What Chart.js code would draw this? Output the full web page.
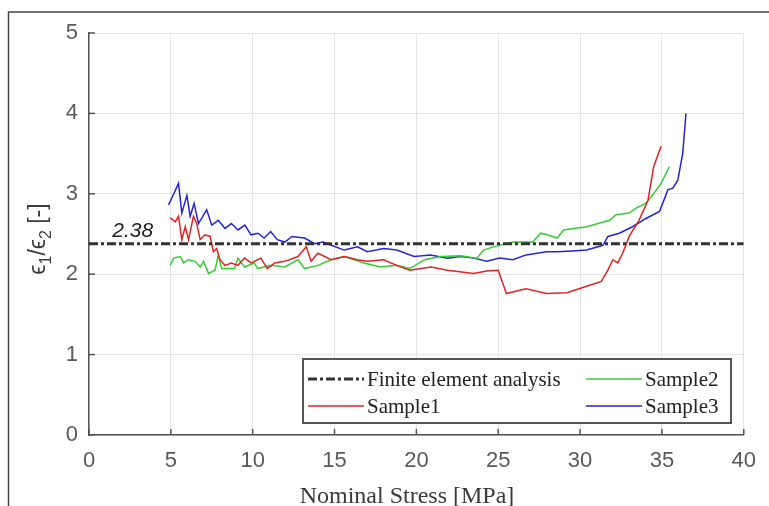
<!DOCTYPE html>
<html><head><meta charset="utf-8">
<script src="https://cdn.jsdelivr.net/npm/chart.js@4/dist/chart.umd.min.js"></script>
<style>html,body{margin:0;padding:0;background:#fff;overflow:hidden}</style>
</head><body>
<canvas id="c" width="769" height="506"></canvas>
<script>
// ---------- data ----------
const xTickValues = [0,5,10,15,20,25,30,35,40];
const yTickValues = [0,1,2,3,4,5];
const xTitle = "Nominal Stress [MPa]";
const feaValue = 2.38;
const feaLabel = "2.38";

const feaX = [0, 40];
const feaY = [2.38, 2.38];

const s1X = [4.96,5.27,5.47,5.67,5.88,6.08,6.38,6.58,6.79,7.09,7.4,7.6,7.8,8.0,8.3,8.7,9.1,9.5,9.9,10.5,10.9,11.35,11.96,12.77,13.27,13.57,13.98,14.8,15.6,16.4,17.0,18.0,18.8,19.6,20.9,21.9,23.5,24.3,25.0,25.2,25.5,26.7,27.96,29.2,30.4,31.3,31.7,32.0,32.3,32.6,33.0,33.6,34.15,34.5,34.95];
const s1Y = [2.70,2.65,2.72,2.43,2.59,2.43,2.72,2.63,2.43,2.49,2.47,2.28,2.32,2.18,2.11,2.14,2.11,2.20,2.14,2.20,2.07,2.14,2.16,2.22,2.34,2.16,2.26,2.18,2.22,2.18,2.16,2.18,2.11,2.05,2.09,2.05,2.01,2.04,2.05,1.93,1.76,1.82,1.76,1.77,1.85,1.91,2.05,2.18,2.14,2.26,2.47,2.67,2.92,3.34,3.59];

const s2X = [4.96,5.17,5.57,5.78,6.08,6.48,6.79,7.0,7.3,7.7,7.9,8.1,8.9,9.1,9.5,10.1,10.3,11.1,11.96,12.77,13.17,13.98,14.8,15.6,16.8,17.8,18.8,19.6,20.5,21.5,22.7,23.7,24.1,24.7,25.9,27.1,27.6,28.0,28.6,29.0,30.4,31.8,32.2,33.0,33.4,34.0,34.45,34.95,35.46];
const s2Y = [2.11,2.20,2.22,2.14,2.18,2.16,2.09,2.16,2.01,2.05,2.24,2.07,2.07,2.20,2.09,2.14,2.07,2.11,2.09,2.18,2.07,2.11,2.18,2.22,2.14,2.09,2.11,2.07,2.18,2.22,2.23,2.20,2.30,2.34,2.40,2.40,2.51,2.49,2.45,2.55,2.59,2.67,2.74,2.76,2.82,2.88,2.99,3.13,3.34];

const s3X = [4.86,5.47,5.67,5.98,6.18,6.42,6.69,7.19,7.5,7.9,8.31,8.7,9.1,9.52,9.9,10.33,10.7,11.1,11.5,11.96,12.4,13.17,13.78,14.3,14.8,15.6,16.4,17.0,18.0,18.8,19.86,20.86,21.9,22.7,23.5,24.3,25.1,25.9,26.7,27.96,28.6,29.5,30.4,31.4,31.7,32.4,33.2,34.0,34.85,35.16,35.36,35.67,35.97,36.27,36.47];
const s3Y = [2.86,3.13,2.76,2.98,2.72,2.88,2.63,2.80,2.61,2.67,2.57,2.63,2.55,2.61,2.49,2.51,2.45,2.53,2.43,2.40,2.47,2.45,2.38,2.40,2.36,2.30,2.34,2.28,2.32,2.30,2.22,2.24,2.20,2.22,2.20,2.16,2.20,2.18,2.24,2.28,2.28,2.29,2.30,2.36,2.47,2.51,2.59,2.69,2.78,2.94,3.05,3.07,3.17,3.50,4.0];

const seriesNames = ["Finite element analysis","Sample1","Sample2","Sample3"];
const seriesColors = ["#333333","#e02424","#35cc35","#2424dc"];

function pts(xs, ys){ return xs.map((x,i)=>({x:x, y:ys[i]})); }

// ---------- plugin for MATLAB-style decorations ----------
const deco = {
  id: 'deco',
  afterDraw(chart){
    const ctx = chart.ctx;
    const xs = chart.scales.x, ys = chart.scales.y;
    const a = chart.chartArea;
    ctx.save();
    // inner ticks
    ctx.strokeStyle = '#555'; ctx.lineWidth = 1.5;
    yTickValues.forEach(v=>{
      const p = ys.getPixelForValue(v);
      ctx.beginPath(); ctx.moveTo(a.left, p); ctx.lineTo(a.left+6, p); ctx.stroke();
    });
    xTickValues.forEach(v=>{
      const p = xs.getPixelForValue(v);
      ctx.beginPath(); ctx.moveTo(p, a.bottom); ctx.lineTo(p, a.bottom-6); ctx.stroke();
    });
    // FEA value label
    ctx.fillStyle = '#222';
    ctx.font = 'italic 21px "Liberation Sans", Arial, sans-serif';
    ctx.textAlign = 'left'; ctx.textBaseline = 'alphabetic';
    ctx.fillText(feaLabel, xs.getPixelForValue(1.42), ys.getPixelForValue(feaValue) - 7);
    // x title
    ctx.fillStyle = '#3a3a3a';
    ctx.font = '24px "Liberation Serif", "Times New Roman", serif';
    ctx.textAlign = 'center';
    ctx.fillText(xTitle, 407, 503);
    // y title with subscripts (rotated)
    ctx.save();
    ctx.translate(45, 239);
    ctx.rotate(-Math.PI/2);
    const big = '23px "Liberation Sans", Arial, sans-serif';
    const small = '16px "Liberation Sans", Arial, sans-serif';
    const parts = [["ϵ",big,0],["1",small,6],["/",big,0],["ϵ",big,0],["2",small,6],[" [-]",big,0]];
    let total = 0;
    parts.forEach(p=>{ ctx.font=p[1]; total += ctx.measureText(p[0]).width; });
    let cx = -total/2;
    ctx.textAlign = 'left';
    parts.forEach(p=>{ ctx.font=p[1]; ctx.fillText(p[0], cx, p[2]); cx += ctx.measureText(p[0]).width; });
    ctx.restore();
    // legend
    const L = {x:303, y:359, w:428, h:64};
    ctx.fillStyle = '#fff';
    ctx.fillRect(L.x, L.y, L.w, L.h);
    ctx.strokeStyle = '#555'; ctx.lineWidth = 2;
    ctx.strokeRect(L.x, L.y, L.w, L.h);
    const ds = chart.data.datasets;
    const slots = [
      {i:0, lx:308, ly:379},
      {i:2, lx:586, ly:379},
      {i:1, lx:308, ly:406},
      {i:3, lx:586, ly:406}
    ];
    ctx.font = '21px "Liberation Serif", "Times New Roman", serif';
    ctx.textAlign = 'left';
    ctx.textBaseline = 'middle';
    slots.forEach(s=>{
      const d = ds[s.i];
      ctx.strokeStyle = d.borderColor;
      ctx.lineWidth = d.borderWidth;
      ctx.setLineDash(d.borderDash || []);
      ctx.beginPath(); ctx.moveTo(s.lx, s.ly); ctx.lineTo(s.lx+56, s.ly); ctx.stroke();
      ctx.setLineDash([]);
      ctx.fillStyle = '#222';
      ctx.fillText(d.label, s.lx+59, s.ly+1);
    });
    // outer frame
    ctx.strokeStyle = '#444'; ctx.lineWidth = 1.5;
    ctx.beginPath(); ctx.moveTo(8.5, 506); ctx.lineTo(8.5, 12); ctx.lineTo(769, 12); ctx.stroke();
    ctx.restore();
  }
};

new Chart(document.getElementById('c'), {
  type: 'line',
  data: {
    datasets: [
      {label: seriesNames[0], data: pts(feaX, feaY), borderColor: seriesColors[0], borderWidth: 3, borderDash: [9,3,3,3], pointRadius: 0, tension: 0},
      {label: seriesNames[1], data: pts(s1X, s1Y), borderColor: seriesColors[1], borderWidth: 1.5, pointRadius: 0, tension: 0},
      {label: seriesNames[2], data: pts(s2X, s2Y), borderColor: seriesColors[2], borderWidth: 1.5, pointRadius: 0, tension: 0},
      {label: seriesNames[3], data: pts(s3X, s3Y), borderColor: seriesColors[3], borderWidth: 1.5, pointRadius: 0, tension: 0}
    ]
  },
  options: {
    responsive: false,
    animation: false,
    devicePixelRatio: 1,
    layout: {padding: {top: 33, right: 24, left: 0, bottom: 0}},
    plugins: {legend: {display: false}, tooltip: {enabled: false}},
    scales: {
      x: {
        type: 'linear', min: 0, max: 40,
        afterBuildTicks: s => { s.ticks = xTickValues.map(v=>({value:v})); },
        afterFit: s => { s.height = 71; },
        ticks: {color: '#5a5a5a', font: {family: '"Liberation Sans", Arial, sans-serif', size: 22}, padding: 13, maxRotation: 0},
        grid: {color: '#e4e4e4', lineWidth: 1, drawTicks: false},
        border: {display: true, color: '#555', width: 1.5}
      },
      y: {
        type: 'linear', min: 0, max: 5,
        afterBuildTicks: s => { s.ticks = yTickValues.map(v=>({value:v})); },
        afterFit: s => { s.width = 89; },
        ticks: {color: '#5a5a5a', font: {family: '"Liberation Sans", Arial, sans-serif', size: 22}, padding: 11},
        grid: {color: '#e4e4e4', lineWidth: 1, drawTicks: false},
        border: {display: true, color: '#555', width: 1.5}
      }
    }
  },
  plugins: [deco]
});
</script>
</body></html>
